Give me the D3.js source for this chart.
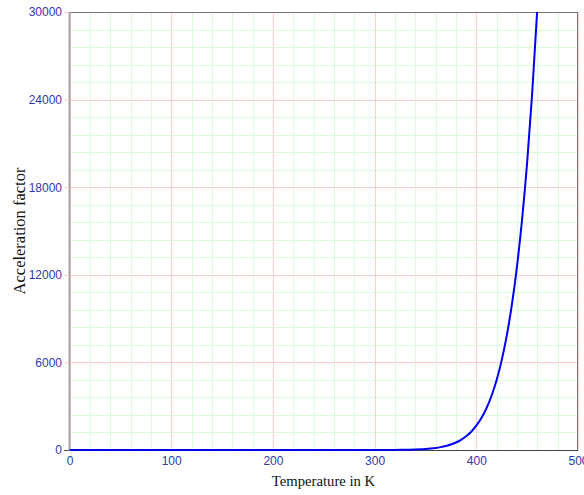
<!DOCTYPE html>
<html><head><meta charset="utf-8">
<script src="https://cdn.jsdelivr.net/npm/d3@7/dist/d3.min.js"></script>
<style>body{margin:0;background:#fff}svg{display:block}</style>
</head><body>
<svg id="chart" width="584" height="495"></svg>
<script>
// Temperature (K) and acceleration factor
const temps = [0, 100, 200, 250, 280, 300, 305, 310, 315, 320, 325, 330, 335, 340, 345, 350, 355, 360, 365, 370, 375, 380, 385, 390, 395, 400, 405, 410, 415, 420, 425, 430, 435, 440, 445, 450, 455, 460, 465];
const factors = [0, 0, 0, 0.003, 0.12, 1, 1.6, 2.6, 4.1, 6.4, 9.8, 14.8, 22.2, 32.8, 47.9, 69.2, 99.1, 140, 197, 274, 377, 515, 699, 940, 1254, 1663, 2189, 2862, 3716, 4797, 6156, 7851, 9958, 12565, 15774, 19698, 24478, 30270, 37270];
const xTicks = [0, 100, 200, 300, 400, 500];
const yTicks = [0, 6000, 12000, 18000, 24000, 30000];
const xMinor = d3.range(0, 501, 20);
const yMinor = d3.range(0, 30001, 1200);
const xTitle = "Temperature in K";
const yTitle = "Acceleration factor";

const svg = d3.select("#chart");
const L = 69.5, R = 578, T = 12, B = 450;
const x = d3.scaleLinear().domain([0, 500]).range([L, R]);
const y = d3.scaleLinear().domain([0, 30000]).range([B, T]);

const labelFont = "'Liberation Sans Narrow', 'Arial Narrow', Arial, sans-serif";
const labelColor = "#3535a8";

// minor grid
const g = svg.append("g");
g.selectAll(".vm").data(xMinor).join("line")
  .attr("x1", d => Math.round(x(d)) + 0.5).attr("x2", d => Math.round(x(d)) + 0.5)
  .attr("y1", T).attr("y2", B).attr("stroke", "#dcfadc").attr("stroke-width", 1);
g.selectAll(".hm").data(yMinor).join("line")
  .attr("y1", d => Math.round(y(d)) + 0.5).attr("y2", d => Math.round(y(d)) + 0.5)
  .attr("x1", L).attr("x2", R).attr("stroke", "#dcfadc").attr("stroke-width", 1);
// major grid
g.selectAll(".vM").data(xTicks).join("line")
  .attr("x1", d => Math.round(x(d)) + 0.5).attr("x2", d => Math.round(x(d)) + 0.5)
  .attr("y1", T).attr("y2", B).attr("stroke", "#ffcfcf").attr("stroke-width", 1);
g.selectAll(".hM").data(yTicks).join("line")
  .attr("y1", d => Math.round(y(d)) + 0.5).attr("y2", d => Math.round(y(d)) + 0.5)
  .attr("x1", L).attr("x2", R).attr("stroke", "#ffcfcf").attr("stroke-width", 1);

// frame
svg.append("line").attr("x1", L).attr("x2", R).attr("y1", 12.5).attr("y2", 12.5).attr("stroke", "#777");
svg.append("line").attr("x1", 577.5).attr("x2", 577.5).attr("y1", T).attr("y2", B).attr("stroke", "#777");
svg.append("line").attr("x1", L).attr("x2", R).attr("y1", 450.5).attr("y2", 450.5).attr("stroke", "#444");
svg.append("line").attr("x1", 69.5).attr("x2", 69.5).attr("y1", T).attr("y2", 451).attr("stroke", "#a5a5a5").attr("stroke-width", 2);

// axes (D3 axis generators)
const xAxis = svg.append("g").attr("transform", `translate(0,${B + 0.5})`)
  .call(d3.axisBottom(x).tickValues(xTicks).tickSize(0).tickPadding(6));
const yAxis = svg.append("g").attr("transform", `translate(${L - 0.5},0)`)
  .call(d3.axisLeft(y).tickValues(yTicks).tickSize(5).tickPadding(2).tickFormat(d3.format("d")));
[xAxis, yAxis].forEach(a => {
  a.select(".domain").remove();
  a.selectAll("text").attr("fill", labelColor).style("font-family", labelFont).style("font-size", "12px");
  a.selectAll("line").attr("stroke", "#555");
});
yAxis.selectAll(".tick line").attr("stroke", d => d === 0 ? "#555" : "#ffcfcf");

// curve
svg.append("clipPath").attr("id", "clip").append("rect")
  .attr("x", L).attr("y", T).attr("width", R - L).attr("height", B - T + 2);
const data = temps.map((t, i) => [t, factors[i]]);
svg.append("path").datum(data)
  .attr("clip-path", "url(#clip)")
  .attr("fill", "none").attr("stroke", "#0000ee").attr("stroke-width", 2)
  .attr("d", d3.line().x(d => x(d[0])).y(d => y(d[1])).curve(d3.curveMonotoneX));

// titles
svg.append("text").attr("x", 323.5).attr("y", 486).attr("text-anchor", "middle")
  .style("font-family", "'Liberation Serif', 'Times New Roman', serif").style("font-size", "14.7px")
  .attr("fill", "#111").text(xTitle);
svg.append("text").attr("transform", `translate(24.5,231) rotate(-90)`).attr("text-anchor", "middle")
  .style("font-family", "'Liberation Serif', 'Times New Roman', serif").style("font-size", "16.5px")
  .attr("fill", "#111").text(yTitle);
</script>
</body></html>
